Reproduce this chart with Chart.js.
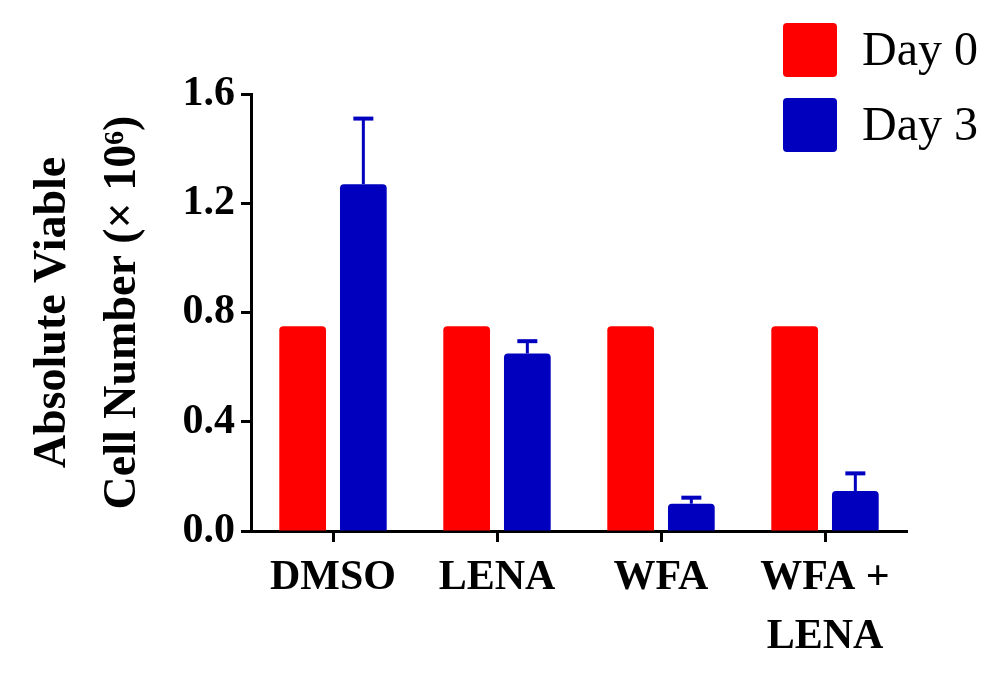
<!DOCTYPE html>
<html>
<head>
<meta charset="utf-8">
<script src="https://cdn.jsdelivr.net/npm/chart.js@4.4.1/dist/chart.umd.min.js"></script>
<style>
  html, body { margin: 0; padding: 0; background: #ffffff; }
  #wrap { width: 987px; height: 687px; position: relative; }
</style>
</head>
<body>
<div id="wrap"><canvas id="c"></canvas></div>
<script>
// ---- data ----
const categories = [["DMSO"], ["LENA"], ["WFA"], ["WFA +", "LENA"]];
const seriesNames = ["Day 0", "Day 3"];
const day0Values = [0.75, 0.75, 0.75, 0.75];
const day3Values = [1.27, 0.65, 0.10, 0.146];
const day3Errors = [0.24, 0.045, 0.022, 0.065];
const yTicks = [0.0, 0.4, 0.8, 1.2, 1.6];
const yTitle = ["Absolute Viable", "Cell Number (\u00D7 10\u2076)"];

const RED = "#FF0000";
const BLUE = "#0000BE";
const SERIF = "'Liberation Serif', 'Times New Roman', serif";

const errorBarPlugin = {
  id: "errorBars",
  afterDatasetsDraw(chart) {
    const meta = chart.getDatasetMeta(1);
    const yScale = chart.scales.y;
    const ctx = chart.ctx;
    ctx.save();
    ctx.strokeStyle = BLUE;
    meta.data.forEach((bar, i) => {
      const v = day3Values[i];
      const yTop = yScale.getPixelForValue(v + day3Errors[i]);
      const yBar = yScale.getPixelForValue(v);
      ctx.lineWidth = 3;
      ctx.beginPath();
      ctx.moveTo(bar.x, yBar);
      ctx.lineTo(bar.x, yTop);
      ctx.stroke();
      ctx.lineWidth = 4;
      ctx.beginPath();
      ctx.moveTo(bar.x - 10, yTop);
      ctx.lineTo(bar.x + 10, yTop);
      ctx.stroke();
    });
    ctx.restore();
  }
};

const legendPlugin = {
  id: "boxLegend",
  afterDraw(chart, args, opts) {
    const ctx = chart.ctx;
    ctx.save();
    chart.data.datasets.forEach((ds, i) => {
      const x = opts.x, y = opts.y + i * opts.rowGap;
      ctx.fillStyle = ds.backgroundColor;
      ctx.beginPath();
      ctx.roundRect(x, y, opts.box, opts.box, 4);
      ctx.fill();
      ctx.fillStyle = "#000";
      ctx.font = "normal 48px " + SERIF;
      ctx.textBaseline = "middle";
      ctx.textAlign = "left";
      ctx.fillText(ds.label, x + opts.box + opts.textGap, y + opts.box / 2 + 2);
    });
    ctx.restore();
  }
};

new Chart(document.getElementById("c"), {
  type: "bar",
  data: {
    labels: categories,
    datasets: [
      { label: seriesNames[0], data: day0Values, backgroundColor: RED,
        borderRadius: 4, borderSkipped: "bottom", categoryPercentage: 0.74, barPercentage: 0.77 },
      { label: seriesNames[1], data: day3Values, backgroundColor: BLUE,
        borderRadius: 4, borderSkipped: "bottom", categoryPercentage: 0.74, barPercentage: 0.77 }
    ]
  },
  options: {
    responsive: true,
    maintainAspectRatio: false,
    animation: false,
    layout: { padding: { top: 94, right: 80, left: 0, bottom: 0 } },
    plugins: {
      legend: { display: false },
      tooltip: { enabled: false },
      boxLegend: { x: 783, y: 23, box: 54, rowGap: 75, textGap: 25 }
    },
    scales: {
      x: {
        afterFit(axis) { axis.height = 156; },
        grid: { display: true, drawOnChartArea: false, drawTicks: true, offset: false,
                tickLength: 11, tickWidth: 3, tickColor: "#000", color: "#000" },
        border: { display: true, color: "#000", width: 3 },
        ticks: { color: "#000", padding: 7, maxRotation: 0, autoSkip: false,
                 font: { family: SERIF, size: 42, weight: "bold", lineHeight: 1.4 } }
      },
      y: {
        min: 0, max: 1.6,
        afterFit(axis) { axis.width = 251; },
        afterBuildTicks(axis) { axis.ticks = yTicks.map(v => ({ value: v })); },
        grid: { display: true, drawOnChartArea: false, drawTicks: true,
                tickLength: 10, tickWidth: 3, tickColor: "#000", color: "#000" },
        border: { display: true, color: "#000", width: 3 },
        ticks: { color: "#000", padding: 6,
                 callback: (v) => Number(v).toFixed(1),
                 font: { family: SERIF, size: 42, weight: "bold" } },
        title: { display: true, text: yTitle, color: "#000",
                 padding: { top: 18, bottom: 0 },
                 font: { family: SERIF, size: 46, weight: "bold", lineHeight: 1.52 } }
      }
    }
  },
  plugins: [errorBarPlugin, legendPlugin]
});
</script>
</body>
</html>
